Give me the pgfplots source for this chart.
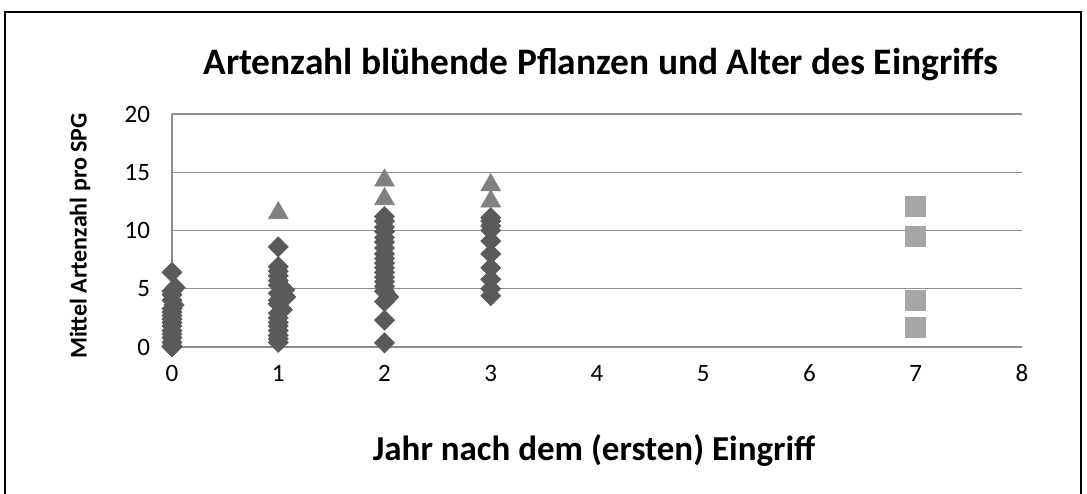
\documentclass[border=0pt]{standalone}
\usepackage{fontspec}
\setmainfont{Carlito}
\usepackage{pgfplots}
\pgfplotsset{compat=1.18}
\definecolor{dia}{HTML}{5A5A5A}
\definecolor{tri}{HTML}{808080}
\definecolor{sqr}{HTML}{A6A6A6}
\definecolor{gridc}{HTML}{8C8C8C}
\begin{document}
\begin{tikzpicture}[x=1pt,y=1pt]
\useasboundingbox (0,0) rectangle (543.5,246.5);
\draw[black,line width=1pt] (2.5,240.5) -- (540.5,240.5) -- (540.5,-5) -- (2.5,-5) -- cycle;
\begin{axis}[
  at={(86pt,73pt)}, anchor=south west,
  scale only axis, width=425pt, height=116.5pt,
  xmin=0, xmax=8, ymin=0, ymax=20,
  xtick={0,...,8}, ytick={0,5,...,20},
  axis x line*=bottom, axis y line*=left,
  axis line style={gridc,line width=0.6pt,-},
  ymajorgrids, grid style={gridc,line width=0.6pt},
  major tick length=0pt,
  clip=false,
  /pgf/number format/assume math mode=true,
  tick label style={font=\fontsize{12.5}{15}\selectfont},
  yticklabel style={xshift=-7.5pt},
  xticklabel style={yshift=-5pt, text height=8.5pt, text depth=0pt},
]
\addplot[only marks, mark=square*, mark size=3.55pt, mark options={rotate=45,fill=dia,draw=dia,line width=0.3pt}] coordinates {
(0,6.4)(0.03,5.1)(0,4.8)(0,4.5)(0,4.0)(0.02,3.6)(0,3.3)(0,3.0)(0,2.7)(0,2.4)(0,2.1)(0,1.8)(0,1.4)(0,1.1)(0,0.8)(0,0.4)(0,0.1)(0,0.0)
(1,8.6)(1,6.9)(1,6.5)(1,6.1)(1,5.7)(1,5.3)(1.06,4.9)(1,4.6)(1.07,4.3)(1,4.0)(1,3.7)(1.04,3.2)(1,2.9)(1,2.5)(1,2.1)(1,1.8)(1,1.4)(1,1.0)(1,0.7)(1,0.4)
(2,11.2)(2,10.8)(2,10.3)(2,9.9)(2,9.4)(2,9.0)(2,8.5)(2,8.0)(2,7.6)(2,7.2)(2,6.8)(2,6.4)(2,6.0)(2,5.6)(2,5.2)(2,4.8)(2.04,4.3)(2,3.9)(2,2.3)(2,0.35)
(3,11.1)(3,10.8)(3,10.4)(3,10.0)(3,9.1)(3,8.0)(3,6.8)(3,5.8)(3,5.0)(3,4.4)
};
\addplot[only marks, mark=triangle*, mark size=5.7pt, mark options={fill=tri,draw=tri,line width=0.3pt}] coordinates {
(1,11.5)(2,14.3)(2,12.7)(3,13.9)(3,12.5)
};
\addplot[only marks, mark=square*, mark size=5pt, mark options={fill=sqr,draw=sqr,line width=0.3pt}] coordinates {
(7,12.1)(7,9.5)(7,4.05)(7,1.7)
};
\end{axis}
\node[font=\bfseries\fontsize{18.7}{22}\selectfont] at (300.5,214) {Artenzahl blühende Pflanzen und Alter des Eingriffs};
\node[font=\bfseries\fontsize{17.5}{20}\selectfont] at (297,21.5) {Jahr nach dem (ersten) Eingriff};
\node[font=\bfseries\fontsize{12}{14}\selectfont,rotate=90] at (40,128.5) {Mittel Artenzahl pro SPG};
\end{tikzpicture}
\end{document}
